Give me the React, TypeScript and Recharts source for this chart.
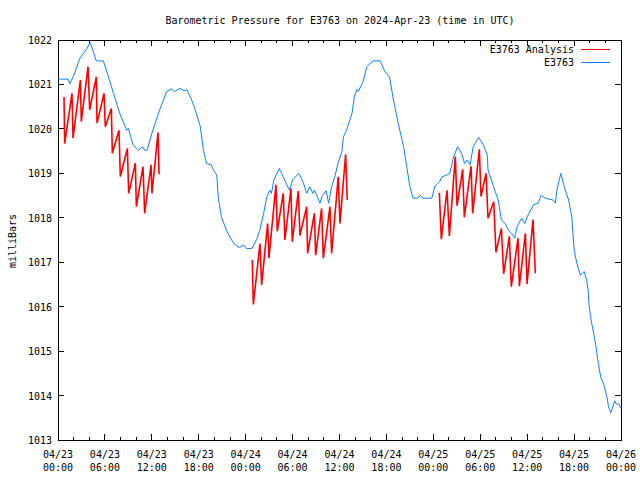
import React from 'react';
import { LineChart, Line, XAxis, YAxis, ReferenceArea, Legend } from 'recharts';

// ---- data (hours since 2024-04-23 00:00 UTC) ----
const stationHours = [
  0.0, 1.3, 1.5, 2.0, 2.8, 3.7, 4.1, 4.3, 4.9, 5.8, 6.2, 7.1, 7.9, 8.8, 9.0, 9.6, 10.3, 10.8, 11.1, 11.4,
  12.0, 13.0, 13.9, 14.5, 14.9, 15.6, 16.1, 16.5, 17.1, 17.5, 18.2, 18.6, 19.0, 19.6, 19.9, 20.3, 20.5, 20.9,
  21.6, 22.2, 22.6, 23.2, 23.7, 24.1, 24.8, 25.4, 25.8, 26.3, 26.7, 27.1, 27.3, 27.6, 28.3, 28.8, 29.6, 30.0,
  30.8, 31.4, 31.8, 32.2, 32.6, 32.8, 33.1, 33.5, 33.8, 34.3, 34.6, 35.0, 35.4, 35.8, 36.3, 36.5, 36.9, 37.6,
  37.9, 38.2, 38.4, 39.0, 39.5, 40.3, 41.2, 41.8, 42.4, 42.9, 43.5, 44.2, 44.6, 45.0, 45.4, 46.0, 46.3, 46.7,
  47.8, 48.2, 48.8, 49.1, 49.7, 50.1, 50.6, 51.1, 51.6, 52.0, 52.3, 52.7, 53.1, 53.8, 54.4, 54.9, 55.0, 55.7,
  56.3, 56.7, 57.2, 57.6, 58.0, 58.4, 58.7, 59.3, 59.7, 60.0, 60.8, 61.4, 61.8, 62.3, 63.3, 63.6, 63.8, 64.3,
  64.8, 65.3, 65.7, 66.0, 66.2, 66.4, 66.8, 67.3, 67.6, 67.8, 67.9, 68.1, 68.5, 68.8, 69.1, 69.4, 69.8, 70.2,
  70.4, 70.7, 71.2, 71.4, 71.7, 72.0,
];
const stationValues = [
  1021.12, 1021.12, 1021.01, 1021.2, 1021.59, 1021.81, 1021.94, 1021.85, 1021.53, 1021.53, 1021.32, 1020.8,
  1020.35, 1019.97, 1020.01, 1019.64, 1019.52, 1019.6, 1019.52, 1019.52, 1019.9, 1020.43, 1020.84, 1020.9,
  1020.84, 1020.91, 1020.86, 1020.88, 1020.65, 1020.46, 1020.05, 1019.52, 1019.22, 1019.19, 1019.07, 1018.96,
  1018.45, 1018.02, 1017.69, 1017.5, 1017.4, 1017.33, 1017.39, 1017.31, 1017.31, 1017.51, 1017.72, 1018.1,
  1018.47, 1018.62, 1018.55, 1018.85, 1019.11, 1018.92, 1018.62, 1018.85, 1019.0, 1018.78, 1018.55, 1018.7,
  1018.55, 1018.62, 1018.5, 1018.33, 1018.5, 1018.61, 1018.33, 1018.7, 1018.92, 1019.22, 1019.49, 1019.82,
  1019.97, 1020.35, 1020.72, 1020.89, 1020.84, 1021.06, 1021.4, 1021.53, 1021.53, 1021.29, 1021.17, 1020.65,
  1020.13, 1019.6, 1019.15, 1018.7, 1018.44, 1018.44, 1018.51, 1018.44, 1018.44, 1018.71, 1018.81, 1018.92,
  1018.96, 1019.0, 1019.37, 1019.6, 1019.45, 1019.22, 1019.3, 1019.19, 1019.6, 1019.81, 1019.64, 1019.41,
  1019.07, 1018.7, 1018.4, 1017.95, 1017.87, 1017.72, 1017.65, 1017.54, 1017.8, 1017.99, 1017.87, 1018.02,
  1018.29, 1018.33, 1018.51, 1018.44, 1018.4, 1018.33, 1018.62, 1019.0, 1018.66, 1018.4, 1018.02, 1017.3,
  1017.1, 1016.95, 1016.71, 1016.79, 1016.6, 1016.37, 1016.07, 1015.77, 1015.4, 1015.1, 1014.72, 1014.42,
  1014.24, 1013.97, 1013.75, 1013.61, 1013.88, 1013.81, 1013.81, 1013.71,
];

const analysisHours = [
  0.77, 0.85, 1.79, 1.92, 2.86, 2.98, 3.84, 4.05, 4.9, 4.99, 5.88, 6.05, 6.82, 6.95, 7.8, 7.97, 8.87, 9.04,
  9.89, 10.02, 10.87, 11.08, 11.9, 12.02, 12.79, 12.92,
  18.0,
  24.85, 24.98, 25.83, 26.04, 26.81, 26.98, 27.87, 28.04, 28.81, 29.02, 29.79, 29.96, 30.73, 30.94, 31.8,
  31.92, 32.78, 32.95, 33.71, 33.93, 34.78, 34.99, 35.84, 36.06, 36.78, 36.99,
  42.0,
  48.77, 49.02, 49.75, 50.05, 50.81, 51.03, 51.75, 51.96, 52.82, 53.03, 53.88, 54.1, 54.74, 54.99, 55.72,
  56.01, 56.7, 56.99, 57.72, 57.97, 58.83, 59.0, 59.77, 59.98, 60.75, 61.04,
];
const analysisValues: (number | null)[] = [
  1020.72, 1019.67, 1020.8, 1019.79, 1021.1, 1020.16, 1021.4, 1020.43, 1021.17, 1020.13, 1020.8, 1020.05,
  1020.46, 1019.45, 1019.97, 1018.93, 1019.56, 1018.55, 1019.23, 1018.25, 1019.15, 1018.1, 1019.19, 1018.55,
  1019.92, 1018.98,
  null,
  1017.05, 1016.05, 1017.42, 1016.49, 1017.87, 1017.09, 1018.74, 1017.7, 1018.55, 1017.5, 1018.66, 1017.46,
  1018.6, 1017.6, 1018.25, 1017.2, 1018.1, 1017.16, 1018.21, 1017.09, 1018.25, 1017.2, 1018.92, 1017.87,
  1019.43, 1018.4,
  null,
  1018.56, 1017.52, 1018.62, 1017.59, 1019.38, 1018.27, 1019.09, 1018.01, 1019.16, 1018.1, 1019.54, 1018.48,
  1019.0, 1017.99, 1018.36, 1017.22, 1017.76, 1016.74, 1017.58, 1016.45, 1017.54, 1016.46, 1017.65, 1016.51,
  1017.96, 1016.75,
];

const majorTickHours = [0, 6, 12, 18, 24, 30, 36, 42, 48, 54, 60, 66, 72];
const tickDates = ['04/23', '04/23', '04/23', '04/23', '04/24', '04/24', '04/24', '04/24', '04/25', '04/25', '04/25', '04/25', '04/26'];
const tickTimes = ['00:00', '06:00', '12:00', '18:00', '00:00', '06:00', '12:00', '18:00', '00:00', '06:00', '12:00', '18:00', '00:00'];
const yTicks = [1013, 1014, 1015, 1016, 1017, 1018, 1019, 1020, 1021, 1022];

const seriesNames = { analysis: 'E3763 Analysis', station: 'E3763' };
const titleText = 'Barometric Pressure for E3763 on 2024-Apr-23 (time in UTC)';
const yLabelText = 'milliBars';

// ---- layout ----
const FONT = '"DejaVu Sans Mono", monospace';
const PLOT_TOP = 40;
const PLOT_RIGHT = 621;
const RED = '#ff0000';
const BLUE = '#0a80ff';

const stationData = stationHours.map((h, i) => ({ h, v: stationValues[i] }));
const analysisData = analysisHours.map((h, i) => ({ h, v: analysisValues[i] }));
const minorTicks = Array.from({ length: 37 }, (_, i) => i * 2);

const XTick = (props: any) => {
  const { x, y, payload } = props;
  const h = payload.value;
  const idx = majorTickHours.indexOf(h);
  const major = idx >= 0;
  const len = major ? 6 : 3;
  return (
    <g>
      <line x1={x} x2={x} y1={y} y2={y - len} stroke="#000" shapeRendering="crispEdges" />
      <line x1={x} x2={x} y1={PLOT_TOP} y2={PLOT_TOP + len} stroke="#000" shapeRendering="crispEdges" />
      {major && (
        <text x={x} y={y + 18} textAnchor="middle" fontFamily={FONT} fontSize={10} fill="#000">
          <tspan x={x}>{tickDates[idx]}</tspan>
          <tspan x={x} dy={13}>{tickTimes[idx]}</tspan>
        </text>
      )}
    </g>
  );
};

const YTick = (props: any) => {
  const { x, y, payload } = props;
  return (
    <g>
      <line x1={x} x2={x + 6} y1={y} y2={y} stroke="#000" shapeRendering="crispEdges" />
      <line x1={PLOT_RIGHT - 6} x2={PLOT_RIGHT} y1={y} y2={y} stroke="#000" shapeRendering="crispEdges" />
      <text x={x - 6} y={y + 4} textAnchor="end" fontFamily={FONT} fontSize={10} fill="#000">
        {payload.value}
      </text>
    </g>
  );
};

const LegendContent = () => {
  const rows = [
    { name: seriesNames.analysis, color: RED },
    { name: seriesNames.station, color: BLUE },
  ];
  return (
    <div style={{ fontFamily: FONT, fontSize: 10, lineHeight: '13px' }}>
      {rows.map((r) => (
        <div key={r.name} style={{ display: 'flex', justifyContent: 'flex-end', alignItems: 'center', height: 13 }}>
          <span>{r.name}</span>
          <svg width={29} height={13} style={{ marginLeft: 7, marginRight: 2 }}>
            <line x1={0} x2={29} y1={6.5} y2={6.5} stroke={r.color} strokeWidth={1} />
          </svg>
        </div>
      ))}
    </div>
  );
};

export default function App() {
  return (
    <div style={{ position: 'absolute', left: 0, top: 0, width: 640, height: 480, background: '#fff' }}>
      <div
        style={{
          position: 'absolute', left: 0, width: 680, top: 14, textAlign: 'center',
          fontFamily: FONT, fontSize: 10, lineHeight: '13px', color: '#000',
        }}
      >
        {titleText}
      </div>
      <div
        style={{
          position: 'absolute', left: 12, top: 241, transform: 'translate(-50%, -50%) rotate(-90deg)',
          fontFamily: FONT, fontSize: 10, lineHeight: '13px', color: '#000', whiteSpace: 'nowrap',
        }}
      >
        {yLabelText}
      </div>
      <LineChart width={640} height={480} margin={{ top: PLOT_TOP, right: 19, bottom: 0, left: 0 }}>
        <XAxis
          dataKey="h"
          type="number"
          domain={[0, 72]}
          ticks={minorTicks}
          interval={0}
          allowDataOverflow
          height={40}
          tickSize={0}
          tickMargin={0}
          axisLine={false}
          tickLine={false}
          tick={<XTick />}
        />
        <YAxis
          type="number"
          domain={[1013, 1022]}
          ticks={yTicks}
          interval={0}
          allowDataOverflow
          width={58}
          tickSize={0}
          tickMargin={0}
          axisLine={false}
          tickLine={false}
          tick={<YTick />}
        />
        <ReferenceArea x1={0} x2={72} y1={1013} y2={1022} fill="none" stroke="#000" strokeWidth={1} shapeRendering="crispEdges" />
        <Legend
          layout="vertical"
          align="center"
          verticalAlign="middle"
          content={<LegendContent />}
          wrapperStyle={{ left: 380, top: 43, width: 232 }}
        />
        <Line
          data={stationData}
          dataKey="v"
          name={seriesNames.station}
          stroke={BLUE}
          strokeWidth={1}
          dot={false}
          activeDot={false}
          type="linear"
          isAnimationActive={false}
        />
        <Line
          data={analysisData}
          dataKey="v"
          name={seriesNames.analysis}
          stroke={RED}
          strokeWidth={1.6}
          dot={false}
          activeDot={false}
          type="linear"
          connectNulls={false}
          isAnimationActive={false}
        />
      </LineChart>
    </div>
  );
}
